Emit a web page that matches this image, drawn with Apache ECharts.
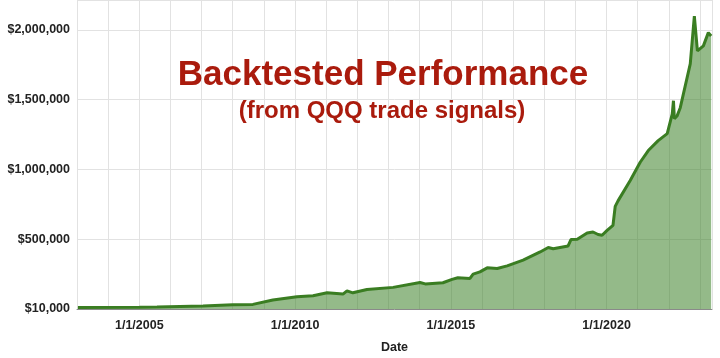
<!DOCTYPE html>
<html>
<head>
<meta charset="utf-8">
<script src="https://cdn.jsdelivr.net/npm/echarts@6/dist/echarts.min.js"></script>
<style>html,body{margin:0;padding:0;background:#fff}#c{width:720px;height:358px}</style>
</head>
<body>
<div id="c"></div>
<script>
const titleText = 'Backtested Performance';
const subtitleText = '(from QQQ trade signals)';
const xAxisName = 'Date';

const dates = [
  '2003-01-12','2005-01-01','2005-07-27','2007-01-18','2008-01-01','2008-08-25','2009-04-16',
  '2010-01-23','2010-07-31','2011-01-12','2011-07-17','2011-09-02','2011-11-10','2012-04-23',
  '2013-02-24','2014-01-05','2014-03-08','2014-10-01','2015-01-16','2015-03-25','2015-08-14',
  '2015-09-20','2015-12-09','2016-03-03','2016-06-28','2016-10-23','2017-04-28','2017-11-14',
  '2018-02-17','2018-04-16','2018-10-08','2018-11-10','2019-01-23','2019-05-19','2019-07-27',
  '2019-09-24','2019-11-10','2020-01-08','2020-03-17','2020-04-12','2020-05-15','2020-10-05',
  '2021-01-30','2021-05-05','2021-08-29','2021-12-13','2022-02-10','2022-02-24','2022-03-07',
  '2022-04-09','2022-05-15','2022-09-09','2022-10-27','2022-12-02','2023-02-10','2023-04-09',
  '2023-05-12'
];
const values = [
  10000, 13000, 15000, 21000, 30000, 33000, 64000,
  88000, 95000, 116000, 107000, 130000, 116000, 140000,
  155000, 190000, 180000, 188000, 212000, 224000, 219000,
  250000, 266000, 295000, 290000, 309000, 350000, 409000,
  441000, 432000, 452000, 498000, 500000, 545000, 552000,
  534000, 529000, 564000, 600000, 736000, 775000, 921000,
  1052000, 1136000, 1207000, 1257000, 1398000, 1493000, 1364000,
  1386000, 1443000, 1757000, 2100000, 1850000, 1886000, 1981000,
  1957000
];
const xLabelYears = [2005, 2010, 2015, 2020];
const yTickValues = [0, 500000, 1000000, 1500000, 2000000];
const yTickLabels = ['$10,000', '$500,000', '$1,000,000', '$1,500,000', '$2,000,000'];

const YEAR_MS = 365.25 * 86400000;
const xMin = 33 * YEAR_MS;               // ~2003-01-01
const xMax = Date.parse('2023-05-22');
const yMin = 0, yMax = 2215000;

const seriesData = dates.map((d, i) => [Date.parse(d), values[i]]);

const chart = echarts.init(document.getElementById('c'), null, {renderer: 'canvas'});
const labelFont = {fontFamily: 'Liberation Sans, Arial, sans-serif', fontSize: 12.5, fontWeight: 'bold', color: '#222'};
chart.setOption({
  animation: false,
  backgroundColor: '#ffffff',
  grid: {left: 77, right: 8, top: 0, bottom: 49, containLabel: false, outerBoundsMode: 'none'},
  xAxis: {
    type: 'value',
    min: xMin,
    max: xMax,
    interval: YEAR_MS,
    name: xAxisName,
    nameLocation: 'middle',
    nameGap: 32,
    nameTextStyle: labelFont,
    axisLine: {show: true, lineStyle: {color: '#8a8a8a', width: 1}},
    axisTick: {show: false},
    axisLabel: Object.assign({
      margin: 10,
      showMaxLabel: false,
      showMinLabel: false,
      formatter: function (v) {
        const y = Math.round(1970 + v / YEAR_MS);
        return xLabelYears.indexOf(y) >= 0 ? '1/1/' + y : '';
      }
    }, labelFont),
    splitLine: {show: true, lineStyle: {color: '#e2e2e2', width: 1}}
  },
  yAxis: {
    type: 'value',
    min: yMin,
    max: yMax,
    interval: 500000,
    axisLine: {show: false},
    axisTick: {show: false},
    axisLabel: Object.assign({
      margin: 7,
      showMaxLabel: false,
      formatter: function (v) {
        const i = yTickValues.indexOf(v);
        return i >= 0 ? yTickLabels[i] : '';
      }
    }, labelFont),
    splitLine: {show: true, lineStyle: {color: '#e2e2e2', width: 1}}
  },
  graphic: [
    {type: 'text', x: 383, y: 75, style: {text: titleText, font: 'bold 35px "Liberation Sans", Arial, sans-serif', fill: '#aa1b0d', align: 'center', verticalAlign: 'middle'}, z: 10},
    {type: 'text', x: 382, y: 111, style: {text: subtitleText, font: 'bold 24px "Liberation Sans", Arial, sans-serif', fill: '#aa1b0d', align: 'center', verticalAlign: 'middle'}, z: 10}
  ],
  series: [{
    type: 'line',
    data: seriesData,
    symbol: 'none',
    smooth: false,
    lineStyle: {color: '#3a7d22', width: 3},
    areaStyle: {color: 'rgb(60,130,40)', opacity: 0.55},
    z: 3
  }]
});
</script>
</body>
</html>
